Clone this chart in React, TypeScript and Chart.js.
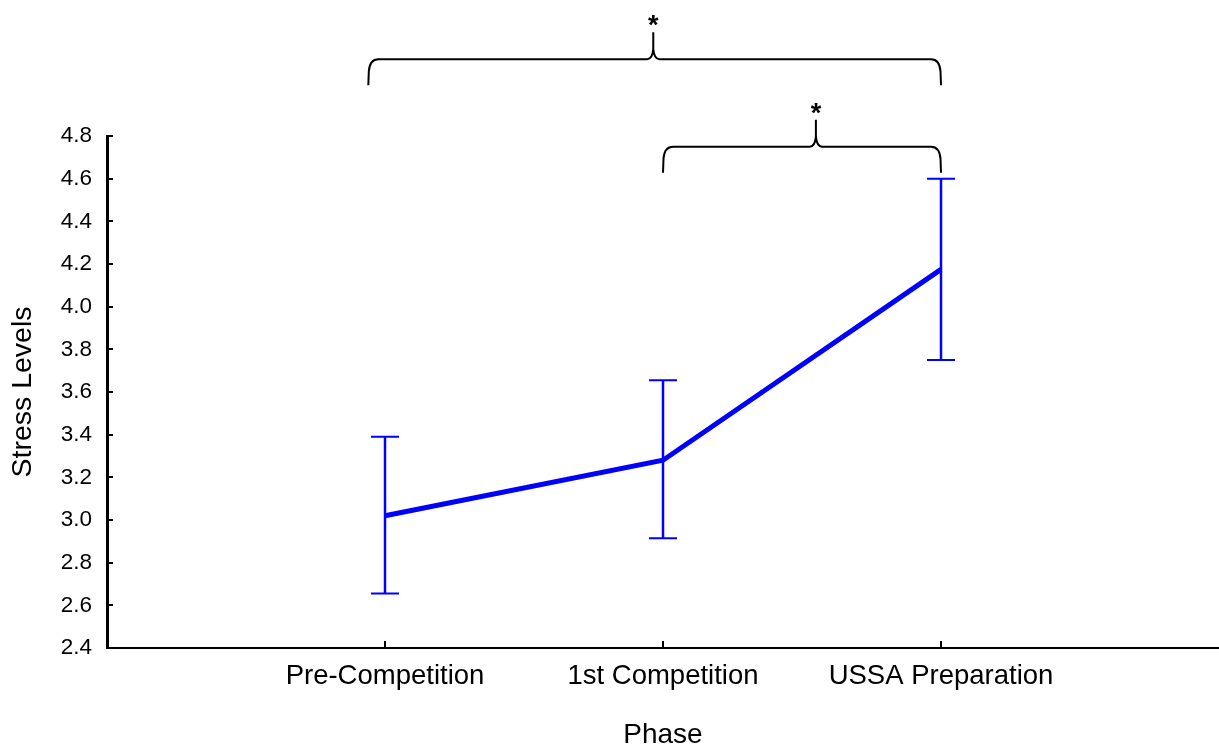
import React, { useEffect, useRef } from "react";
import { Chart, registerables } from "chart.js";

Chart.register(...registerables);

// ---- data ----
const categories = ["Pre-Competition", "1st Competition", "USSA Preparation"];
const categoryPositions = [1, 2, 3];
const means = [3.02, 3.28, 4.175];
const errLow = [2.655, 2.915, 3.75];
const errHigh = [3.39, 3.655, 4.6];
const yTickValues = [2.4, 2.6, 2.8, 3.0, 3.2, 3.4, 3.6, 3.8, 4.0, 4.2, 4.4, 4.6, 4.8];
const xMin = 0;
const xMax = 4;

// significance braces (x in category units, level in y units)
const braceFrom = [0.94, 2.0];
const braceTo = [3.0, 3.0];
const braceTip = [1.965, 2.55];
const braceLevel = [5.16, 4.75];
const braceLabels = ["*", "*"];

const FONT = "'Liberation Sans', Arial, sans-serif";
const BLUE = "#0000ff";

const errorBarPlugin = {
  id: "errorBars",
  beforeDatasetsDraw(chart: any) {
    const { ctx, scales } = chart;
    const xs = scales.x;
    const ys = scales.y;
    ctx.save();
    ctx.strokeStyle = BLUE;
    for (let i = 0; i < categoryPositions.length; i++) {
      const px = xs.getPixelForValue(categoryPositions[i]);
      const pLo = ys.getPixelForValue(errLow[i]);
      const pHi = ys.getPixelForValue(errHigh[i]);
      ctx.lineWidth = 2.5;
      ctx.beginPath();
      ctx.moveTo(px, pLo);
      ctx.lineTo(px, pHi);
      ctx.stroke();
      ctx.lineWidth = 2;
      ctx.beginPath();
      ctx.moveTo(px - 14, pLo);
      ctx.lineTo(px + 14, pLo);
      ctx.moveTo(px - 14, pHi);
      ctx.lineTo(px + 14, pHi);
      ctx.stroke();
    }
    ctx.restore();
  },
};

const axisTicksPlugin = {
  id: "innerTicks",
  afterDraw(chart: any) {
    const { ctx, scales, chartArea } = chart;
    ctx.save();
    ctx.strokeStyle = "#000";
    ctx.lineWidth = 2;
    ctx.beginPath();
    for (const v of yTickValues) {
      const py = Math.round(scales.y.getPixelForValue(v));
      ctx.moveTo(chartArea.left, py);
      ctx.lineTo(chartArea.left + 6, py);
    }
    for (const v of categoryPositions) {
      const px = Math.round(scales.x.getPixelForValue(v));
      ctx.moveTo(px, chartArea.bottom);
      ctx.lineTo(px, chartArea.bottom - 7);
    }
    ctx.stroke();
    ctx.restore();
  },
};

const bracePlugin = {
  id: "braces",
  afterDraw(chart: any) {
    const { ctx, scales } = chart;
    const xs = scales.x;
    const ys = scales.y;
    ctx.save();
    ctx.strokeStyle = "#000";
    ctx.fillStyle = "#000";
    ctx.lineWidth = 2;
    for (let i = 0; i < braceFrom.length; i++) {
      const x1 = xs.getPixelForValue(braceFrom[i]);
      const x2 = xs.getPixelForValue(braceTo[i]);
      const xt = xs.getPixelForValue(braceTip[i]);
      const yH = ys.getPixelForValue(braceLevel[i]);
      const yB = yH + 26;
      const yT = yH - 27;
      const r = 10;
      const c = 6;
      ctx.beginPath();
      ctx.moveTo(x1, yB);
      ctx.lineTo(x1 + 0.5, yH + r + 2);
      ctx.quadraticCurveTo(x1 + 1.5, yH, x1 + r, yH);
      ctx.lineTo(xt - c, yH);
      ctx.quadraticCurveTo(xt - 1, yH, xt, yH - 10);
      ctx.lineTo(xt, yT);
      ctx.moveTo(xt, yH - 10);
      ctx.quadraticCurveTo(xt + 1, yH, xt + c, yH);
      ctx.lineTo(x2 - r, yH);
      ctx.quadraticCurveTo(x2 - 1.5, yH, x2 - 0.5, yH + r + 2);
      ctx.lineTo(x2, yB);
      ctx.stroke();
      ctx.font = `bold 27px ${FONT}`;
      ctx.textAlign = "center";
      ctx.textBaseline = "alphabetic";
      ctx.fillText(braceLabels[i], xt, yT + 2);
    }
    ctx.restore();
  },
};

export default function App() {
  const canvasRef = useRef<HTMLCanvasElement | null>(null);

  useEffect(() => {
    document.body.style.margin = "0";
    const canvas = canvasRef.current;
    if (!canvas) return;
    Chart.defaults.color = "#000";
    const chart = new Chart(canvas, {
      type: "line",
      data: {
        datasets: [
          {
            data: categoryPositions.map((x, i) => ({ x, y: means[i] })),
            borderColor: BLUE,
            backgroundColor: BLUE,
            borderWidth: 5,
            pointRadius: 0,
            tension: 0,
            clip: false as any,
          },
        ],
      },
      options: {
        animation: false,
        responsive: false,
        maintainAspectRatio: false,
        layout: { padding: { top: 136, right: 0, bottom: 0, left: 0 } },
        plugins: {
          legend: { display: false },
          tooltip: { enabled: false },
        },
        scales: {
          x: {
            type: "linear",
            min: xMin,
            max: xMax,
            afterBuildTicks: (scale: any) => {
              scale.ticks = categoryPositions.map((v) => ({ value: v }));
            },
            afterFit: (scale: any) => {
              scale.height = 99;
            },
            grid: { display: false, drawTicks: false },
            border: { display: true, color: "#000", width: 2 },
            ticks: {
              padding: 12,
              maxRotation: 0,
              autoSkip: false,
              font: { family: FONT, size: 27.5 },
              color: "#000",
              callback: (v: any) => {
                const idx = categoryPositions.indexOf(Number(v));
                return idx >= 0 ? categories[idx] : "";
              },
            },
            title: {
              display: true,
              text: "Phase",
              color: "#000",
              font: { family: FONT, size: 28, lineHeight: 0.86 },
              padding: { top: 0, bottom: 0 },
            },
          },
          y: {
            type: "linear",
            min: 2.4,
            max: 4.8,
            afterBuildTicks: (scale: any) => {
              scale.ticks = yTickValues.map((v) => ({ value: v }));
            },
            afterFit: (scale: any) => {
              scale.width = 107;
            },
            grid: { display: false, drawTicks: false },
            border: { display: true, color: "#000", width: 3 },
            ticks: {
              padding: 15,
              font: { family: FONT, size: 22.5 },
              color: "#000",
              callback: (v: any) => Number(v).toFixed(1),
            },
            title: {
              display: true,
              text: "Stress Levels",
              color: "#000",
              font: { family: FONT, size: 28.5, lineHeight: 1 },
              padding: { top: 9, bottom: 0 },
            },
          },
        },
      },
      plugins: [errorBarPlugin, axisTicksPlugin, bracePlugin],
    });
    return () => chart.destroy();
  }, []);

  return (
    <div style={{ width: 1219, height: 747 }}>
      <canvas
        ref={canvasRef}
        width={1219}
        height={747}
        style={{ display: "block", width: 1219, height: 747 }}
      />
    </div>
  );
}
